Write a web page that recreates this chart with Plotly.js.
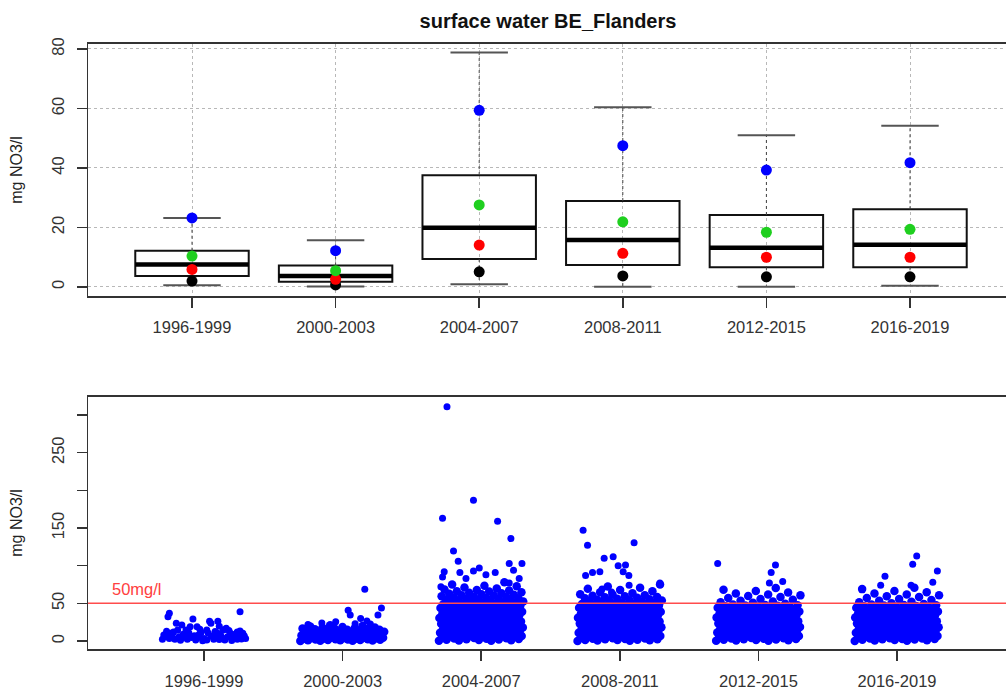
<!DOCTYPE html>
<html>
<head>
<meta charset="utf-8">
<script src="https://cdn.plot.ly/plotly-3.0.1.min.js"></script>
<style>
html, body { margin: 0; padding: 0; overflow: hidden; background: #fff; }
#chart { width: 1012px; height: 693px; }
</style>
</head>
<body>
<div id="chart"></div>
<script>
// ---------- data ----------
const periods = ['1996-1999', '2000-2003', '2004-2007', '2008-2011', '2012-2015', '2016-2019'];

// top panel: box statistics (mg NO3/l)
const q1          = [3.7, 1.8, 9.4, 7.4, 6.6, 6.6];
const medianVal   = [7.6, 3.7, 19.9, 15.8, 13.2, 14.2];
const q3          = [12.2, 7.2, 37.6, 28.9, 24.2, 26.1];
const whiskerLow  = [0.6, 0.2, 0.9, 0.1, 0.1, 0.4];
const whiskerHigh = [23.2, 15.7, 78.8, 60.4, 51.0, 54.2];
const statBlue    = [23.2, 12.2, 59.4, 47.5, 39.3, 41.8];
const statGreen   = [10.4, 5.5, 27.6, 21.9, 18.4, 19.4];
const statRed     = [5.9, 2.6, 14.1, 11.3, 10.0, 10.0];
const statBlack   = [2.0, 0.7, 5.1, 3.7, 3.4, 3.4];

// bottom panel: individual measurements (mg NO3/l)
const limitValue = 50;
const limitLabel = '50mg/l';

// 1996-1999: sparse points with read jitter offsets
const obs1996 = [36.7,32.3,29.2,39,26.1,26.1,23.5,21.2,19,15.5,14.6,19.5,14.6,14.6,14.6,19,23.5,10.2,12,13.2,
  8,10.2,5.8,8,4.6,8,3.5,6.8,10.2,3.5,5.8,8,5.8,10.2,2.2,3.5,2.2,2.2,1.3,0.4,2.2,1.3,2.2,3.5,
  5.8,12,11,7,10.5,12.5,7.5,14,4.5,7,3.8,1.5,0.8,11.5,17,13,9,6,2.8,4.9,1.9,9.5,6.2,0.9];
const jit1996 = [-0.25,-0.26,-0.08,0.26,0.10,0.04,-0.20,-0.16,-0.10,-0.03,0.02,0.11,0.14,-0.13,-0.19,-0.05,0.05,0.19,0.24,0.26,
  -0.29,-0.24,-0.18,-0.14,-0.09,-0.04,0.00,0.05,0.10,0.14,0.17,0.21,0.26,0.28,-0.30,-0.25,-0.21,-0.12,-0.06,-0.01,0.07,0.15,0.24,0.30,
  -0.27,-0.22,-0.11,-0.07,0.03,0.08,0.12,0.18,0.22,0.29,-0.16,0.02,0.20,-0.02,0.16,-0.27,-0.15,0.09,0.27,-0.03,0.11,0.23,-0.23,-0.17];

// 2000-2003
const obs2000 = [0.1,0.3,0.4,0.7,0.9,1.0,1.3,1.5,1.6,1.9,2.1,2.2,2.5,2.8,2.9,3.1,3.4,3.6,3.7,4.0,4.3,4.4,4.6,4.9,5.1,5.2,5.5,5.8,6.0,6.1,
  6.4,6.7,6.8,7.1,7.3,7.5,7.8,8.0,8.2,8.5,8.8,8.9,9.2,9.5,9.7,9.9,10.2,10.4,10.7,10.9,11.2,11.4,11.6,11.9,12.2,12.4,12.7,13.0,13.2,13.5,
  13.9,14.1,14.4,14.8,15.1,15.5,15.8,16.3,16.7,17.2,17.6,18.1,18.7,19.4,20.1,21.0];
const high2000 = [68.6, 41, 34.5, 44, 34.5, 30, 26.6, 24, 25.5, 23, 22.5, 22];
const highJit2000 = [0.16, 0.04, 0.055, 0.28, 0.255, 0.13, 0.175, -0.15, -0.05, 0.09, 0.20, -0.25];

// 2004-2007
const obs2004 = [0.2,0.5,0.7,1.1,1.4,1.6,2.0,2.4,2.6,2.9,3.3,3.7,4.0,4.2,4.6,5.0,5.3,5.5,5.9,6.3,6.6,6.8,7.2,7.6,7.9,8.1,8.5,8.9,9.2,9.4,
  9.8,10.2,10.5,10.7,11.1,11.5,11.8,12.1,12.4,12.8,13.1,13.4,13.8,14.1,14.3,14.7,15.1,15.4,15.8,16.1,16.3,16.7,17.1,17.5,17.8,18.0,18.4,18.8,19.1,19.5,
  19.8,20.2,20.6,20.9,21.3,21.7,22.0,22.4,22.8,23.2,23.5,23.9,24.3,24.7,25.0,25.4,25.8,26.2,26.5,26.9,27.3,27.7,28.0,28.4,28.8,29.2,29.6,30.0,30.3,30.7,
  31.1,31.5,31.9,32.3,32.6,33.0,33.4,33.8,34.2,34.6,35.0,35.3,35.7,36.1,36.5,36.9,37.3,37.7,38.0,38.4,38.8,39.2,39.6,40.0,40.4,40.7,41.1,41.5,41.9,42.3,
  42.7,43.1,43.4,43.8,44.2,44.6,45.0,45.4,45.8,46.1,46.5,46.9,47.3,47.7,48.1,48.5,48.9,49.3,49.7,
  50.1,50.6,51.0,51.5,51.9,52.4,52.8,53.3,53.9,54.4,54.9,55.5,56.0,56.6,57.1,57.8,58.4,58.9,59.6,60.3,60.8,61.5,62.1,62.7,63.4,64.2,64.9,65.6,
  66.1,67.0,67.8,68.4,69.8,71.2,72.6,73.5,75.1,78.0];
const high2004 = [311, 163, 187, 159, 136, 119.5, 106, 103, 103, 91, 94, 91, 97, 93, 92, 85, 83, 88, 83, 72, 77];
const highJit2004 = [-0.247,-0.279,-0.056,0.118,0.214,-0.200,-0.166,0.202,0.294,-0.154,0.233,0.101,-0.014,-0.056,-0.267,-0.279,-0.110,0.034,0.274,-0.291,0.202];

// 2008-2011
const obs2008 = [0.1,0.4,0.6,0.9,1.3,1.5,1.8,2.2,2.5,2.7,3.0,3.4,3.8,4.1,4.4,4.7,5.0,5.4,5.7,6.0,6.2,6.6,7.0,7.3,7.7,8.0,8.3,8.6,9.0,9.3,
  9.7,10.0,10.3,10.6,11.0,11.4,11.7,12.0,12.4,12.7,13.1,13.5,13.8,14.2,14.5,14.8,15.2,15.6,15.9,16.2,16.6,17.0,17.3,17.6,18.0,18.4,18.7,19.1,19.4,19.8,
  20.1,20.5,20.9,21.2,21.6,22.0,22.3,22.7,23.1,23.4,23.8,24.2,24.6,24.9,25.3,25.7,26.0,26.4,26.8,27.2,27.5,27.9,28.3,28.7,29.1,29.4,29.8,30.2,30.6,31.0,
  31.4,31.7,32.1,32.5,32.9,33.3,33.7,34.0,34.4,34.8,35.2,35.6,36.0,36.3,36.7,37.1,37.5,37.9,38.3,38.7,39.0,39.4,39.8,40.2,40.6,41.0,41.4,41.8,42.1,42.5,
  42.9,43.3,43.7,44.1,44.5,44.9,45.3,45.6,46.0,46.4,46.8,47.2,47.6,48.0,48.4,48.8,49.2,49.6,
  50.4,50.9,51.3,52.0,52.6,53.2,53.7,54.1,54.8,55.3,56.0,56.7,57.4,58.0,58.6,59.5,60.2,60.9,61.6,62.2,63.5,64.8,66.0,67.7,69.3,70.8,72.4,74.9];
const high2008 = [147, 127, 130.5, 110, 112, 100, 101, 92, 87, 92, 91, 87, 77, 74, 69, 65];
const highJit2008 = [-0.265,-0.233,0.103,-0.113,-0.048,-0.012,0.041,0.024,0.065,-0.144,-0.197,-0.247,0.289,0.067,-0.128,-0.060];

// 2012-2015
const obs2012 = [0.2,0.4,0.8,1.1,1.3,1.7,2.0,2.3,2.6,3.0,3.2,3.6,3.9,4.2,4.6,4.9,5.1,5.5,5.8,6.2,6.5,6.8,7.1,7.5,7.8,8.1,8.5,8.8,9.1,9.5,
  9.8,10.1,10.5,10.8,11.2,11.5,11.8,12.2,12.5,12.9,13.2,13.5,13.9,14.3,14.6,14.9,15.3,15.7,16.0,16.3,16.7,17.1,17.4,17.8,18.1,18.5,18.9,19.2,19.6,19.9,
  20.3,20.7,21.0,21.4,21.8,22.1,22.5,22.9,23.3,23.6,24.0,24.4,24.7,25.1,25.5,25.9,26.2,26.6,27.0,27.4,27.7,28.1,28.5,28.9,29.3,29.6,30.0,30.4,30.8,31.2,
  31.5,31.9,32.3,32.7,33.1,33.5,33.8,34.2,34.6,35.0,35.4,35.8,36.2,36.5,36.9,37.3,37.7,38.1,38.5,38.9,39.3,39.6,40.0,40.4,40.8,41.2,41.6,42.0,42.4,42.8,
  43.1,43.5,43.9,44.3,44.7,45.1,45.5,45.9,46.3,46.7,47.1,47.5,47.9,
  48.6,49.5,50.7,51.5,52.4,53.6,54.8,55.9,57.2,58.5,59.8,60.6,61.9,63.1,64.5,66.3,68.2,70.4];
const high2012 = [103, 101, 91, 77, 79];
const highJit2012 = [-0.294, 0.123, 0.092, 0.079, 0.175];

// 2016-2019
const obs2016 = [0.1,0.3,0.7,1.0,1.4,1.6,1.9,2.3,2.6,2.8,3.2,3.5,3.8,4.1,4.5,4.8,5.2,5.4,5.8,6.1,6.4,6.7,7.1,7.4,7.7,8.0,8.4,8.7,9.1,9.4,
  9.7,10.0,10.4,10.7,11.1,11.4,11.7,12.1,12.4,12.8,13.1,13.4,13.8,14.2,14.5,14.8,15.2,15.6,15.9,16.2,16.6,17.0,17.3,17.7,18.0,18.4,18.8,19.1,19.5,19.8,
  20.2,20.6,20.9,21.3,21.7,22.0,22.4,22.8,23.2,23.5,23.9,24.3,24.6,25.0,25.4,25.8,26.1,26.5,26.9,27.3,27.6,28.0,28.4,28.8,29.2,29.5,29.9,30.3,30.7,31.1,
  31.4,31.8,32.2,32.6,33.0,33.4,33.7,34.1,34.5,34.9,35.3,35.7,36.1,36.4,36.8,37.2,37.6,38.0,38.4,38.8,39.2,39.5,39.9,40.3,40.7,41.1,41.5,41.9,42.3,42.7,
  43.0,43.4,43.8,44.2,44.6,45.0,45.4,45.8,46.2,46.6,47.0,47.4,47.8,
  48.5,49.3,50.2,51.4,52.3,53.5,54.6,55.8,57.0,58.3,59.4,60.7,61.8,63.2,64.6,66.5,68.9,70.6];
const high2016 = [113, 102, 93, 86, 74, 78, 74];
const highJit2016 = [0.142, 0.113, 0.291, -0.087, -0.118, 0.258, 0.101];

// ---------- build ----------
const FONT = 'Liberation Sans, Arial, Helvetica, sans-serif';
const pos = periods.map((_, i) => i + 1);

function segs(centers, halfWidth, values) {
  const x = [], y = [];
  centers.forEach((c, i) => { x.push(c - halfWidth, c + halfWidth, null); y.push(values[i], values[i], null); });
  return {x, y};
}
function vsegs(centers, from, to) {
  const x = [], y = [];
  centers.forEach((c, i) => { x.push(c, c, null); y.push(from[i], to[i], null); });
  return {x, y};
}

const traces = [];
// whiskers (dashed)
const wUp = vsegs(pos, q3, whiskerHigh), wLo = vsegs(pos, q1, whiskerLow);
traces.push({type:'scatter', mode:'lines', x:wUp.x.concat(wLo.x), y:wUp.y.concat(wLo.y), xaxis:'x', yaxis:'y',
  line:{color:'#444', width:1, dash:'3px,3px'}, hoverinfo:'skip', showlegend:false});
// boxes
traces.push({type:'box', x:pos, q1:q1, median:medianVal, q3:q3, lowerfence:q1, upperfence:q3,
  width:0.79, whiskerwidth:0, boxpoints:false, fillcolor:'rgba(0,0,0,0)', line:{color:'#111', width:2},
  xaxis:'x', yaxis:'y', hoverinfo:'skip', showlegend:false});
// thick median
const med = segs(pos, 0.395, medianVal);
traces.push({type:'scatter', mode:'lines', x:med.x, y:med.y, xaxis:'x', yaxis:'y',
  line:{color:'#000', width:4.5}, hoverinfo:'skip', showlegend:false});
// caps
const capH = segs(pos, 0.2, whiskerHigh), capL = segs(pos, 0.2, whiskerLow);
traces.push({type:'scatter', mode:'lines', x:capH.x.concat(capL.x), y:capH.y.concat(capL.y), xaxis:'x', yaxis:'y',
  line:{color:'#555', width:2}, hoverinfo:'skip', showlegend:false});
// colored statistics
[[statBlack,'#000000'],[statRed,'#ff0000'],[statGreen,'#1fcf1f'],[statBlue,'#0000ff']].forEach(([v, col]) => {
  traces.push({type:'scatter', mode:'markers', x:pos, y:v, xaxis:'x', yaxis:'y',
    marker:{color:col, size:11, symbol:'circle', line:{width:0}, opacity:1}, hoverinfo:'skip', showlegend:false});
});

// bottom panel points
const JHALF = 0.305;
function spread(n, c) { // deterministic horizontal spread (jitter) of the points of one period
  return Array.from({length:n}, (_, i) => c + 2 * JHALF * (((i * 0.6180339887) % 1) - 0.5));
}
const px = [], py = [], ps = [];
function addGroup(c, bulk, bulkJit, high, highJit) {
  const xs = bulkJit ? bulk.map((_, i) => c + bulkJit[i]) : spread(bulk.length, c);
  const sz = bulkJit ? 7 : 8.5;
  xs.forEach((x, i) => { px.push(x); py.push(bulk[i]); ps.push(sz); });
  if (high) high.forEach((v, i) => { px.push(c + highJit[i]); py.push(v); ps.push(7); });
}
addGroup(1, obs1996, jit1996);
addGroup(2, obs2000, null, high2000, highJit2000);
addGroup(3, obs2004, null, high2004, highJit2004);
addGroup(4, obs2008, null, high2008, highJit2008);
addGroup(5, obs2012, null, high2012, highJit2012);
addGroup(6, obs2016, null, high2016, highJit2016);
traces.push({type:'scatter', mode:'markers', x:px, y:py, xaxis:'x2', yaxis:'y2',
  marker:{color:'#0000ff', size:ps, sizemode:'diameter', line:{width:0}, opacity:1}, hoverinfo:'skip', showlegend:false});

const axCommon = {
  showline:true, linecolor:'#333', linewidth:1.5, mirror:true,
  ticks:'outside', ticklen:10, tickwidth:1.5, tickcolor:'#333',
  zeroline:false, automargin:false, fixedrange:true,
  tickfont:{family:FONT, size:16.5, color:'#333'}
};

const layout = {
  width:1012, height:693,
  margin:{l:88, r:2, t:0, b:0},
  paper_bgcolor:'#ffffff', plot_bgcolor:'#ffffff',
  font:{family:FONT, size:16, color:'#222'},
  showlegend:false,
  title:{text:'<b>surface water BE_Flanders</b>', font:{family:FONT, size:20, color:'#111'},
    xref:'container', yref:'container', x:548/1012, y:1 - 21/693, xanchor:'center', yanchor:'middle'},
  xaxis:Object.assign({}, axCommon, {
    domain:[0,1], anchor:'y', range:[0.2758, 6.6964],
    tickmode:'array', tickvals:pos, ticktext:periods, ticklabelstandoff:6,
    showgrid:true, gridcolor:'#b8b8b8', griddash:'dot', gridwidth:1
  }),
  yaxis:Object.assign({}, axCommon, {
    domain:[0.57287, 0.93651], anchor:'x', range:[-3.03, 81.68],
    tickmode:'array', tickvals:[0,20,40,60,80], tickangle:-90, ticklabelstandoff:6,
    showgrid:true, gridcolor:'#b8b8b8', griddash:'dot', gridwidth:1,
    title:{text:'mg NO3/l', font:{family:FONT, size:16, color:'#222'}, standoff:22}
  }),
  xaxis2:Object.assign({}, axCommon, {
    domain:[0,1], anchor:'y2', range:[0.163, 6.815],
    tickmode:'array', tickvals:pos, ticktext:periods, ticklabelstandoff:6,
    showgrid:false
  }),
  yaxis2:Object.assign({}, axCommon, {
    domain:[0.06306, 0.42756], anchor:'x2', range:[-11.0, 324.4],
    tickmode:'array', tickvals:[0,50,100,150,200,250,300], ticktext:['0','50','','150','','250',''],
    tickangle:-90, ticklabelstandoff:6, showgrid:false,
    title:{text:'mg NO3/l', font:{family:FONT, size:16, color:'#222'}, standoff:22}
  }),
  shapes:[{type:'line', xref:'x2 domain', x0:0, x1:1, yref:'y2', y0:limitValue, y1:limitValue,
    line:{color:'#ff4d4d', width:1.5}, layer:'above'}],
  annotations:[{text:limitLabel, xref:'x2', yref:'y2', x:0.322, y:limitValue + 19, xanchor:'left', yanchor:'middle',
    showarrow:false, font:{family:FONT, size:16.5, color:'#ff4040'}}]
};

Plotly.newPlot('chart', traces, layout, {displayModeBar:false, staticPlot:true});
</script>
</body>
</html>
